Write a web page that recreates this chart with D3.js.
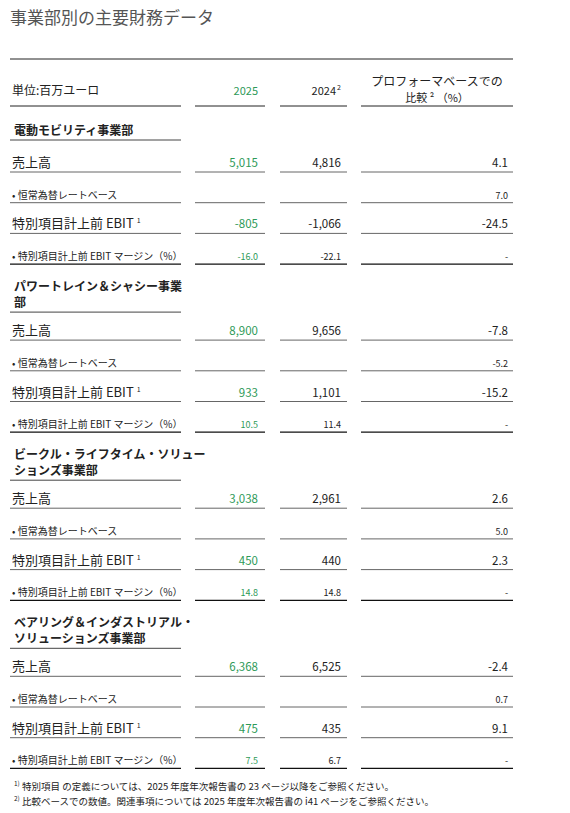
<!DOCTYPE html>
<html><head><meta charset="utf-8">
<script src="https://cdn.jsdelivr.net/npm/d3@7"></script>
<style>body{margin:0;background:#fff}text{font-family:"Noto Sans CJK JP","Noto Sans",sans-serif}</style>
</head><body><svg id="t" width="570" height="813"></svg>
<script>
const sections = [
  ['電動モビリティ事業部'],
  ['パワートレイン＆シャシー事業', '部'],
  ['ビークル・ライフタイム・ソリュー', 'ションズ事業部'],
  ['ベアリング＆インダストリアル・', 'ソリューションズ事業部']
]
const rowLabels = ['売上高', '• 恒常為替レートベース', '特別項目計上前 EBIT', '• 特別項目計上前 EBIT マージン（%）']
const values2025 = [['5,015', '', '-805', '-16.0'], ['8,900', '', '933', '10.5'], ['3,038', '', '450', '14.8'], ['6,368', '', '475', '7.5']]
const values2024 = [['4,816', '', '-1,066', '-22.1'], ['9,656', '', '1,101', '11.4'], ['2,961', '', '440', '14.8'], ['6,525', '', '435', '6.7']]
const valuesProForma = [['4.1', '7.0', '-24.5', '-'], ['-7.8', '-5.2', '-15.2', '-'], ['2.6', '5.0', '2.3', '-'], ['-2.4', '0.7', '9.1', '-']]
const footnotes = ['特別項目 の定義については、2025 年度年次報告書の 23 ページ以降をご参照ください。',
                   '比較ベースでの数値。関連事項については 2025 年度年次報告書の i41 ページをご参照ください。']

const svg = d3.select('#t')
const green = '#2e9a58'
const cols = [{x0: 10, x1: 181}, {x0: 195, x1: 265}, {x0: 280, x1: 347}, {x0: 361, x1: 513}]
const line = (x0, x1, y, c = '#444', w = 1) => svg.append('line').attr('x1', x0).attr('x2', x1)
  .attr('y1', y).attr('y2', y).attr('stroke', c).attr('stroke-width', w)
const txt = (s, x, y, size, opts = {}) => svg.append('text').text(s).attr('x', x).attr('y', y)
  .attr('font-size', size).attr('fill', opts.fill || '#222').attr('text-anchor', opts.anchor || 'start')
  .attr('font-weight', opts.bold ? 'bold' : 'normal')

txt('事業部別の主要財務データ', 10, 24, 17, {fill: '#555'})
line(10, 513, 59, '#222')

// header
txt('単位:百万ユーロ', 12, 95, 12)
txt('2025', 258, 95, 11, {fill: green, anchor: 'end'})
txt('2024', 336, 95, 11, {anchor: 'end'})
txt('2', 337, 90, 7)
txt('プロフォーマベースでの', 437, 86, 12, {anchor: 'middle'})
txt('比較 ² （%）', 437, 102, 11, {anchor: 'middle'})
cols.forEach(c => line(c.x0, c.x1, 106, '#222'))

let y = 106
sections.forEach((title, s) => {
  const titleTop = y + (s === 0 ? 29 : 27)
  title.forEach((t, i) => txt(t, 14, titleTop + i * 16, 12, {bold: true}))
  y = titleTop + (title.length - 1) * 16 + 5
  line(cols[0].x0, cols[0].x1, y)
  rowLabels.forEach((lab, r) => {
    const small = r % 2 === 1
    y += r === 0 ? (s === 0 ? 32 : 28) : 30.7
    const ty = y - (small ? 4 : 5)
    const vs = small ? 9 : 11.5
    const t = txt(lab, 12, ty, small ? 10 : 13)
    if (r === 2) txt('1', 12 + t.node().getComputedTextLength() + 3, ty - 5, 7)
    txt(values2025[s][r], 258, ty, vs, {fill: green, anchor: 'end'})
    txt(values2024[s][r], 341, ty, vs, {anchor: 'end'})
    txt(valuesProForma[s][r], 508, ty, vs, {anchor: 'end'})
    const last = r === rowLabels.length - 1
    cols.forEach(c => line(c.x0, c.x1, y, last ? '#111' : '#666', last ? 1.3 : 1))
  })
})

footnotes.forEach((f, i) => {
  const fy = 790 + i * 15
  txt(i + 1 + ')', 14, fy - 4, 6.5)
  txt(f, 22, fy, 9.5)
})
</script></body></html>
